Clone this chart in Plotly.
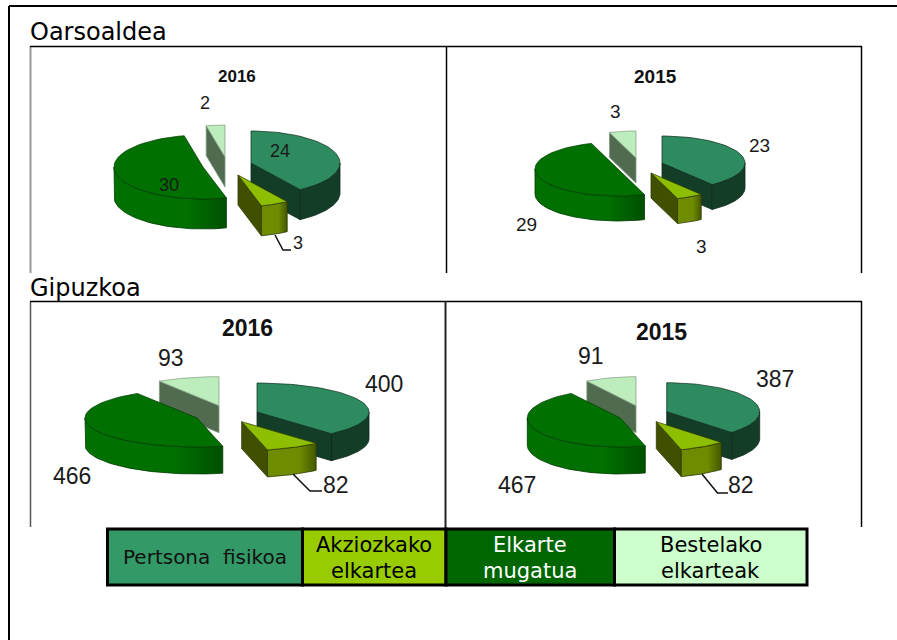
import math
import plotly.graph_objects as go

# ---- data ----
categories = ["Pertsona fisikoa", "Akziozkako elkartea", "Elkarte mugatua", "Bestelako elkarteak"]
oarsoaldea_2016 = [24, 3, 30, 2]
oarsoaldea_2015 = [23, 3, 29, 3]
gipuzkoa_2016 = [400, 82, 466, 93]
gipuzkoa_2015 = [387, 82, 467, 91]
group_titles = ["Oarsoaldea", "Gipuzkoa"]
year_titles = ["2016", "2015", "2016", "2015"]

# ---- styles per category ----
TOP = ["#2E8B60", "#8DBE00", "#007000", "#BDEDBD"]
CUT = ["#143D28", "#405000", "#005000", "#506B50"]
RIM = [("#143D28", "#143D28"), ("#6F8C00", "#445800"), ("#007000", "#005000"), ("#506B50", "#506B50")]
EDGE = ["#0C2A1A", "#2E3A00", "#003A00", "#7F9A7F"]
LEGEND_FILL = ["#339966", "#99CC00", "#006600", "#CCFFCC"]
LEGEND_TEXT = ["#111111", "#000000", "#FFFFFF", "#000000"]
LEGEND_LINES = [["Pertsona\u00a0 fisikoa"], ["Akziozkako", "elkartea"], ["Elkarte", "mugatua"], ["Bestelako", "elkarteak"]]
LEGEND_SIZE = [20, 21, 21, 21]
LEGEND_X = [107.5, 302.5, 446, 614.5, 807]

SANS = "Liberation Sans, Arial, sans-serif"
VERD = "DejaVu Sans, Verdana, sans-serif"

# ---- layout of each 3-D pie: size, and where each exploded slice's apex sits ----
panels = [
    dict(values=oarsoaldea_2016, rx=89, ry=32, depth=30,
         apex=[(251, 163), (238, 175), (203, 167), (225, 157)],
         title=(237, 76, 17), font=18,
         labels=[(280, 151), (298, 243), (169, 185), (205, 103)],
         leader=[(275, 235), (283, 250), (291, 250)]),
    dict(values=oarsoaldea_2015, rx=83, ry=27, depth=25,
         apex=[(662, 163), (651, 173), (618, 169), (636, 158)],
         title=(655, 76, 19), font=19,
         labels=[(759, 145), (701, 246), (526, 224), (615, 111)],
         leader=None),
    dict(values=gipuzkoa_2016, rx=112, ry=29, depth=27,
         apex=[(257, 412), (241.7, 421.7), (197, 418), (219, 405.7)],
         title=(247, 328, 23), font=23,
         labels=[(384, 384), (336, 485), (72, 476), (171, 358)],
         leader=[(293, 474), (310, 491), (322, 491)]),
    dict(values=gipuzkoa_2015, rx=93, ry=29, depth=27,
         apex=[(666.7, 411.7), (656.3, 421.7), (620.3, 418), (636, 405.7)],
         title=(661, 331.5, 23), font=23,
         labels=[(775, 379), (741, 485), (517, 485), (591, 356)],
         leader=[(702, 474), (717.5, 493), (728, 493)]),
]

DRAW_ORDER = [3, 0, 2, 1]
fig = go.Figure()


def poly(xs, ys, fill, edge, width=0.8, gradient=None):
    kw = dict(x=xs, y=ys, mode="lines", fill="toself", line=dict(color=edge, width=width),
              hoverinfo="skip", showlegend=False)
    if gradient:
        kw["fillgradient"] = dict(type="horizontal", colorscale=[[0, gradient[0]], [0.65, gradient[0]], [1, gradient[1]]])
    else:
        kw["fillcolor"] = fill
    fig.add_trace(go.Scatter(**kw))


def point(ax, ay, p, ang):
    t = math.radians(ang)
    return ax + p["rx"] * math.sin(t), ay - p["ry"] * math.cos(t)


def arc(ax, ay, p, a, b, n=48):
    return [point(ax, ay, p, a + (b - a) * i / n) for i in range(n + 1)]


for p in panels:
    total = sum(p["values"])
    bounds = [0.0]
    for v in p["values"]:
        bounds.append(bounds[-1] + 360.0 * v / total)
    for i in DRAW_ORDER:
        a, b = bounds[i], bounds[i + 1]
        ax, ay = p["apex"][i]
        d = p["depth"]
        # cut faces turned to the viewer
        for ang, normal in ((a, a - 90), (b, b + 90)):
            if math.cos(math.radians(normal)) < -1e-6:
                x1, y1 = point(ax, ay, p, ang)
                poly([ax, x1, x1, ax, ax], [ay, y1, y1 + d, ay + d, ay], CUT[i], EDGE[i])
        # outer rim: the part of the slice on the front half
        lo, hi = max(a, 90.0), min(b, 270.0)
        if hi > lo:
            pts = arc(ax, ay, p, lo, hi)
            xs = [q[0] for q in pts] + [q[0] for q in reversed(pts)]
            ys = [q[1] for q in pts] + [q[1] + d for q in reversed(pts)]
            poly(xs + xs[:1], ys + ys[:1], None, EDGE[i], gradient=RIM[i])
        # top face
        pts = [(ax, ay)] + arc(ax, ay, p, a, b) + [(ax, ay)]
        poly([q[0] for q in pts], [q[1] for q in pts], TOP[i], EDGE[i], width=0.7)

shapes = []


def line(x0, y0, x1, y1, color="#000000", width=1.5):
    shapes.append(dict(type="line", xref="x", yref="y", x0=x0, y0=y0, x1=x1, y1=y1,
                       line=dict(color=color, width=width)))


# outer frame
line(9, 6, 897, 6, width=2)
line(9, 6, 9, 640, width=2)
# panel frames
line(30.5, 46, 30.5, 273, "#999999", 2)
line(30, 46.5, 862, 46.5)
line(446.5, 46, 446.5, 273)
line(861.5, 46, 861.5, 273)
line(30.5, 301.5, 30.5, 527, "#555555", 1.5)
line(30, 301.5, 862, 301.5)
line(445.5, 301, 445.5, 528, "#222222", 2)
line(861.5, 301, 861.5, 527)

# legend boxes
for i in range(4):
    shapes.append(dict(type="rect", xref="x", yref="y", x0=LEGEND_X[i], x1=LEGEND_X[i + 1], y0=529, y1=585,
                       fillcolor=LEGEND_FILL[i], line=dict(color="#000000", width=3)))

annotations = []


def text(x, y, s, size, family, color="#000000", bold=False):
    annotations.append(dict(x=x, y=y, xref="x", yref="y", text=f"<b>{s}</b>" if bold else str(s),
                            showarrow=False, xanchor="center", yanchor="middle",
                            font=dict(size=size, family=family, color=color)))


text(98.5, 32, group_titles[0], 24, VERD, "#000000")
text(85.5, 288, group_titles[1], 24, VERD, "#000000")

for p, yr in zip(panels, year_titles):
    tx, ty, ts = p["title"]
    text(tx, ty, yr, ts, SANS, "#111111", bold=True)
    for (lx, ly), v in zip(p["labels"], p["values"]):
        text(lx, ly, v, p["font"], SANS, "#1A1A1A")
    if p["leader"]:
        fig.add_trace(go.Scatter(x=[q[0] for q in p["leader"]], y=[q[1] for q in p["leader"]],
                                 mode="lines", line=dict(color="#111111", width=1.5),
                                 hoverinfo="skip", showlegend=False))

for i, lines in enumerate(LEGEND_LINES):
    cx = (LEGEND_X[i] + LEGEND_X[i + 1]) / 2
    ys = [557] if len(lines) == 1 else [544.5, 571]
    for s, y in zip(lines, ys):
        text(cx, y, s, LEGEND_SIZE[i], VERD, LEGEND_TEXT[i])

fig.update_layout(
    width=897, height=640, autosize=False,
    margin=dict(l=0, r=0, t=0, b=0),
    paper_bgcolor="#FFFFFF", plot_bgcolor="#FFFFFF",
    xaxis=dict(range=[0, 897], visible=False, fixedrange=True),
    yaxis=dict(range=[640, 0], visible=False, fixedrange=True),
    shapes=shapes, annotations=annotations, showlegend=False,
)
fig.write_html("out.html", post_script="document.body.style.margin='0';",
               config=dict(displayModeBar=False))
